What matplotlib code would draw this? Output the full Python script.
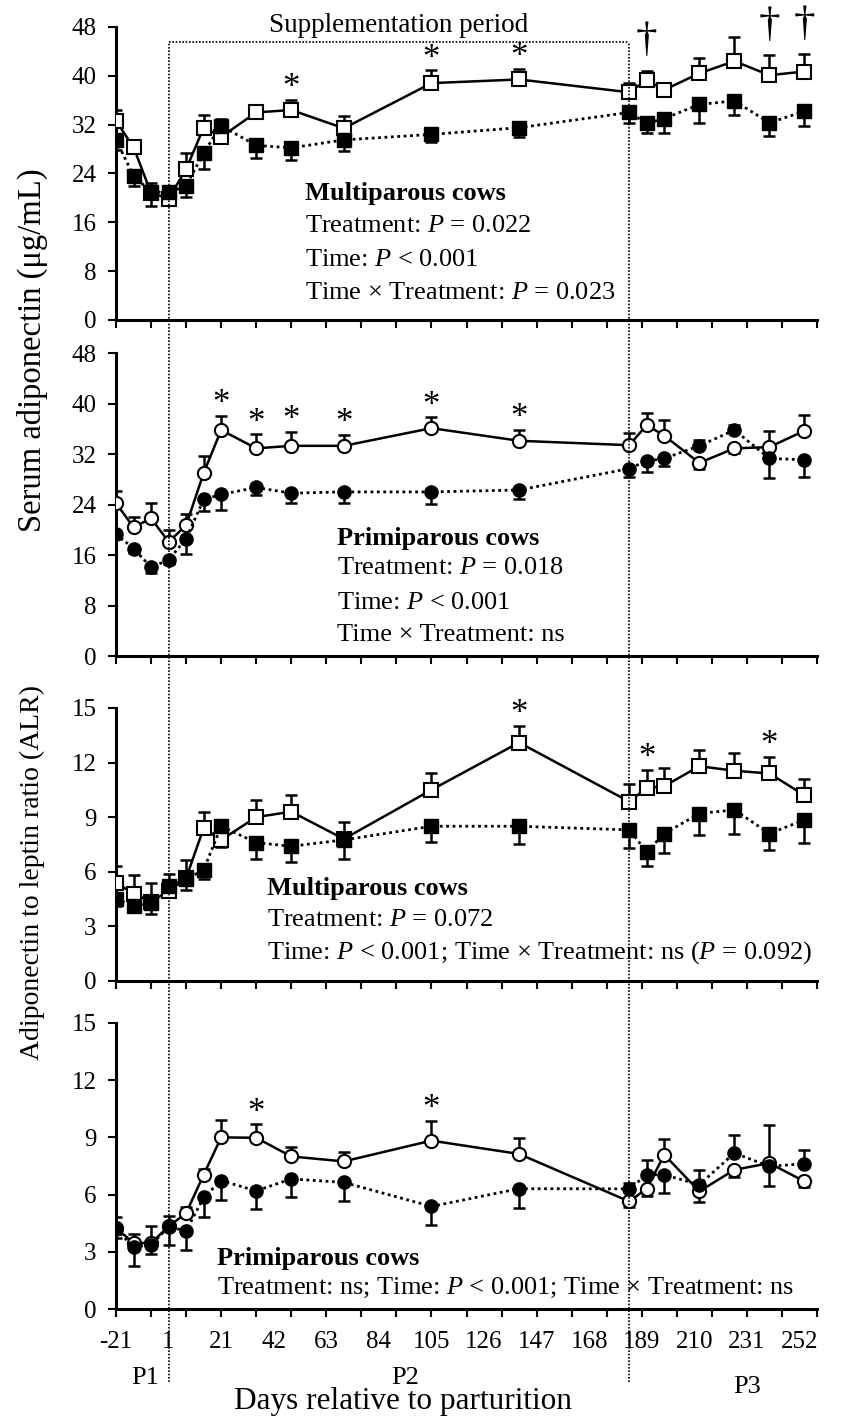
import numpy as np
import matplotlib
matplotlib.use('Agg')
import matplotlib.pyplot as plt
from matplotlib.lines import Line2D
from matplotlib.transforms import blended_transform_factory

plt.rcParams['font.family'] = ['Liberation Serif', 'DejaVu Serif']
plt.rcParams['mathtext.fontset'] = 'custom'
plt.rcParams['mathtext.rm'] = 'Liberation Serif'
plt.rcParams['mathtext.it'] = 'Liberation Serif:italic'
plt.rcParams['mathtext.bf'] = 'Liberation Serif:bold'

# sampling days relative to parturition
days = [-21, -14, -7, 0, 7, 14, 21, 35, 49, 70, 105, 140, 184, 191, 198, 212, 226, 240, 254]
period_start = 0
period_end = 184

# x tick labels (every 21 d), tick marks every 14 d
label_days = [-21, 0, 21, 42, 63, 84, 105, 126, 147, 168, 189, 210, 231, 252]
label_text = ['-21', '1', '21', '42', '63', '84', '105', '126', '147', '168', '189', '210', '231', '252']
tick_days = np.arange(-21, 260, 14)

# serum adiponectin, multiparous (supplemented = open, control = filled)
multi_adn_sup = [32.6, 28.3, 20.8, 19.9, 24.7, 31.5, 30.0, 34.0, 34.4, 31.4, 38.8, 39.4, 37.3, 39.3, 37.7, 40.4, 42.4, 40.1, 40.7]
multi_adn_sup_se = [1.8, 0.6, 2.2, 0.8, 2.6, 2.1, 1.0, 1.2, 1.6, 2.0, 2.1, 1.7, 1.5, 1.5, 1.2, 2.5, 3.9, 3.3, 2.8]
multi_adn_con = [29.5, 23.6, 21.0, 20.9, 22.0, 27.4, 31.8, 28.6, 28.2, 29.5, 30.4, 31.5, 34.0, 32.2, 33.0, 35.3, 35.9, 32.3, 34.2]
multi_adn_con_se = [1.6, 1.6, 1.4, 0.8, 1.8, 2.7, 1.1, 2.1, 2.0, 1.9, 1.2, 1.6, 1.7, 1.6, 2.3, 3.0, 2.4, 2.2, 2.4]

# serum adiponectin, primiparous
primi_adn_sup = [24.2, 20.4, 21.8, 18.1, 20.7, 29.0, 35.8, 32.9, 33.3, 33.3, 36.1, 34.1, 33.4, 36.6, 34.9, 30.6, 32.9, 33.1, 35.7]
primi_adn_sup_se = [1.9, 1.6, 2.4, 1.9, 1.8, 2.7, 2.2, 2.2, 2.2, 1.7, 1.7, 1.7, 1.9, 1.9, 2.5, 1.0, 0.8, 2.6, 2.5]
primi_adn_con = [19.4, 17.0, 14.1, 15.2, 18.6, 24.8, 25.6, 26.7, 25.8, 26.0, 26.0, 26.3, 29.7, 30.9, 31.3, 33.3, 35.8, 31.3, 31.1]
primi_adn_con_se = [0.8, 0.7, 1.0, 0.7, 2.5, 1.9, 2.5, 1.2, 1.5, 1.8, 1.9, 1.5, 1.3, 1.7, 1.2, 1.0, 0.8, 3.1, 2.7]

# adiponectin to leptin ratio, multiparous
multi_alr_sup = [5.4, 4.8, 4.35, 4.95, 5.65, 8.4, 7.75, 9.0, 9.3, 7.8, 10.5, 13.1, 9.85, 10.6, 10.7, 11.8, 11.55, 11.4, 10.2]
multi_alr_sup_se = [0.9, 1.0, 1.05, 0.3, 1.0, 0.9, 0.4, 0.95, 0.9, 0.95, 0.9, 0.9, 0.95, 1.0, 1.0, 0.9, 0.95, 0.9, 0.9]
multi_alr_con = [4.5, 4.1, 4.3, 5.2, 5.6, 6.1, 8.5, 7.6, 7.4, 7.75, 8.5, 8.5, 8.3, 7.1, 8.1, 9.2, 9.4, 8.1, 8.85]
multi_alr_con_se = [0.4, 0.3, 0.6, 0.7, 0.6, 0.5, 0.3, 0.9, 0.85, 1.05, 0.85, 1.0, 1.0, 0.8, 1.05, 1.2, 1.3, 0.9, 1.25]

# adiponectin to leptin ratio, primiparous
primi_alr_sup = [4.25, 3.46, 3.46, 4.33, 5.03, 7.04, 9.0, 8.98, 8.0, 7.74, 8.83, 8.13, 5.64, 6.31, 8.09, 6.17, 7.3, 7.65, 6.69]
primi_alr_sup_se = [0.55, 0.5, 0.9, 0.55, 0.3, 0.3, 0.9, 0.7, 0.5, 0.5, 1.05, 0.85, 0.3, 0.4, 0.8, 0.55, 0.4, 2.0, 0.3]
primi_alr_con = [4.2, 3.25, 3.37, 4.3, 4.1, 5.85, 6.73, 6.2, 6.82, 6.64, 5.38, 6.31, 6.3, 7.04, 7.04, 6.52, 8.18, 7.48, 7.62]
primi_alr_con_se = [0.5, 1.0, 0.5, 0.95, 1.0, 1.05, 1.0, 0.95, 0.95, 0.95, 0.95, 1.0, 0.3, 0.75, 0.95, 0.75, 0.95, 1.05, 0.7]

# significance marks (day, symbol)
multi_adn_marks = [(49, '*'), (105, '*'), (140, '*'), (191, '†'), (240, '†'), (254, '†')]
primi_adn_marks = [(21, '*'), (35, '*'), (49, '*'), (70, '*'), (105, '*'), (140, '*')]
multi_alr_marks = [(140, '*'), (191, '*'), (240, '*')]
primi_alr_marks = [(35, '*'), (105, '*')]

multi_adn_stats = ['Multiparous cows', 'Treatment: $P$ = 0.022', 'Time: $P$ < 0.001',
                   'Time × Treatment: $P$ = 0.023']
primi_adn_stats = ['Primiparous cows', 'Treatment: $P$ = 0.018', 'Time: $P$ < 0.001',
                   'Time × Treatment: ns']
multi_alr_stats = ['Multiparous cows', 'Treatment: $P$ = 0.072',
                   'Time: $P$ < 0.001; Time × Treatment: ns ($P$ = 0.092)']
primi_alr_stats = ['Primiparous cows', 'Treatment: ns; Time: $P$ < 0.001; Time × Treatment: ns']


def one_sided(vals, errs, other):
    # error bar points away from the other group
    vals, errs, other = np.asarray(vals), np.asarray(errs), np.asarray(other)
    up = vals >= other
    return [np.where(up, 0, errs), np.where(up, errs, 0)]


fig = plt.figure(figsize=(8.42, 14.19), dpi=100)

panels = [
    dict(rect=[0.1378, 0.7745, 0.8325, 0.2065], sup=multi_adn_sup, sup_se=multi_adn_sup_se,
         con=multi_adn_con, con_se=multi_adn_con_se, marker='s', ymax=48, ystep=8,
         marks=multi_adn_marks, stats=multi_adn_stats, tx=0.270, ty=[0.433, 0.321, 0.205, 0.092]),
    dict(rect=[0.1378, 0.5377, 0.8325, 0.2135], sup=primi_adn_sup, sup_se=primi_adn_sup_se,
         con=primi_adn_con, con_se=primi_adn_con_se, marker='o', ymax=48, ystep=8,
         marks=primi_adn_marks, stats=primi_adn_stats, tx=0.315, ty=[0.389, 0.290, 0.175, 0.069]),
    dict(rect=[0.1378, 0.3087, 0.8325, 0.1924], sup=multi_alr_sup, sup_se=multi_alr_sup_se,
         con=multi_alr_con, con_se=multi_alr_con_se, marker='s', ymax=15, ystep=3,
         marks=multi_alr_marks, stats=multi_alr_stats, tx=0.215, ty=[0.337, 0.223, 0.103]),
    dict(rect=[0.1378, 0.0775, 0.8325, 0.2016], sup=primi_alr_sup, sup_se=primi_alr_sup_se,
         con=primi_alr_con, con_se=primi_alr_con_se, marker='o', ymax=15, ystep=3,
         marks=primi_alr_marks, stats=primi_alr_stats, tx=0.144, ty=[0.178, 0.073]),
]

axes = []
for i, p in enumerate(panels):
    ax = fig.add_axes(p['rect'])
    axes.append(ax)

    # error bars
    ax.errorbar(days, p['sup'], yerr=one_sided(p['sup'], p['sup_se'], p['con']), fmt='none',
                ecolor='black', elinewidth=1.8, capsize=4.5, capthick=1.8, zorder=2)
    ax.errorbar(days, p['con'], yerr=one_sided(p['con'], p['con_se'], p['sup']), fmt='none',
                ecolor='black', elinewidth=1.8, capsize=4.5, capthick=1.8, zorder=2)

    # supplemented: open markers, solid line
    ax.plot(days, p['sup'], color='black', lw=1.8, marker=p['marker'], ms=9.5,
            mfc='white', mec='black', mew=1.5, zorder=3)
    # control: filled markers, dotted line
    ax.plot(days, p['con'], color='black', lw=2.0, ls=(0, (1, 1.3)), marker=p['marker'], ms=9.5,
            mfc='black', mec='black', zorder=4)

    # significance symbols above the supplemented error bar
    sup_top = dict(zip(days, np.array(p['sup']) + np.array(p['sup_se'])))
    for d, sym in p['marks']:
        if sym == '*':
            ax.annotate(sym, xy=(d, sup_top[d]), xytext=(0, 2), textcoords='offset points',
                        ha='center', va='baseline', fontsize=25)
        else:
            ax.annotate(sym, xy=(d, sup_top[d]), xytext=(0, 14), textcoords='offset points',
                        ha='center', va='baseline', fontsize=31)

    # statistics text
    for j, (line, y) in enumerate(zip(p['stats'], p['ty'])):
        ax.text(p['tx'], y, line, transform=ax.transAxes, ha='left', va='center',
                fontsize=19, fontweight='bold' if j == 0 else 'normal')

    ax.set_xlim(-21, 259)
    ax.set_ylim(0, p['ymax'])
    ax.set_yticks(np.arange(0, p['ymax'] + 1, p['ystep']))
    ax.set_xticks(tick_days)
    ax.set_xticklabels([])
    ax.xaxis.remove_overlapping_locs = False
    if i == 3:
        ax.set_xticks(label_days, labels=label_text, minor=True)
    ax.tick_params(axis='both', which='major', direction='out', length=6, width=1.5,
                   labelsize=18, color='black')
    ax.tick_params(axis='y', pad=8)
    ax.tick_params(axis='x', which='minor', length=0, pad=16, labelsize=18)
    for s in ['top', 'right']:
        ax.spines[s].set_visible(False)
    for s in ['left', 'bottom']:
        ax.spines[s].set_linewidth(2.2)

ax1 = axes[0]
ax4 = axes[3]

# supplementation period box
ax1.plot([period_start, period_end], [45.5, 45.5], color='black', lw=1.2, ls=(0, (1, 1)),
         clip_on=False)
ax1.text((period_start + period_end) / 2, 48.3, 'Supplementation period', ha='center',
         va='center', fontsize=19.5)
trans = blended_transform_factory(ax4.transData, fig.transFigure)
for d in [period_start, period_end]:
    fig.add_artist(Line2D([d, d], [0.026, 0.9704], transform=trans, color='black', lw=1.2,
                          ls=(0, (1, 1))))

# axis titles and period labels
fig.text(0.039, 0.753, 'Serum adiponectin (μg/mL)', rotation=90, ha='center', va='center',
         fontsize=23.5)
fig.text(0.039, 0.385, 'Adiponectin to leptin ratio (ALR)', rotation=90, ha='center',
         va='center', fontsize=20)
fig.text(0.479, 0.012, 'Days relative to parturition', ha='center', va='center', fontsize=22.5)
fig.text(0.172, 0.029, 'P1', ha='center', va='center', fontsize=19)
fig.text(0.481, 0.029, 'P2', ha='center', va='center', fontsize=19)
fig.text(0.887, 0.0226, 'P3', ha='center', va='center', fontsize=19)

fig.savefig('out.png', dpi=100)
